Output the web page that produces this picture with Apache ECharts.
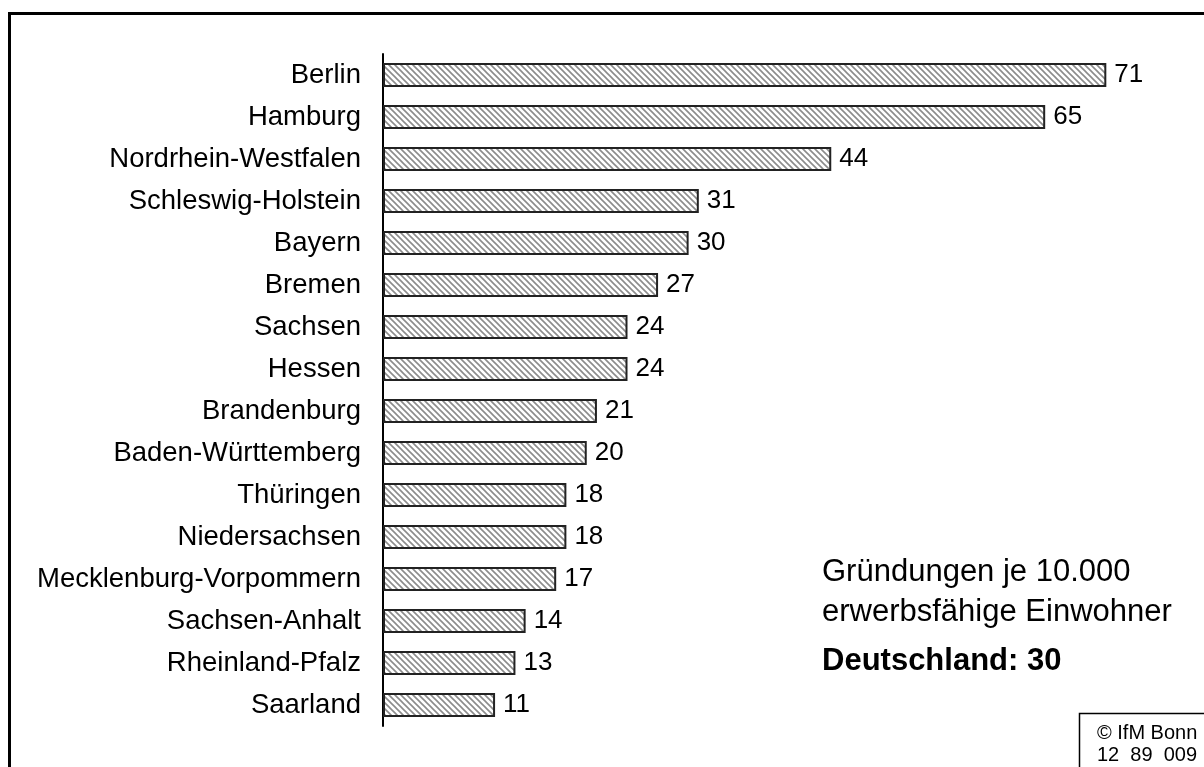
<!DOCTYPE html>
<html>
<head>
<meta charset="utf-8">
<script src="https://cdn.jsdelivr.net/npm/echarts@6/dist/echarts.min.js"></script>
<style>html,body{margin:0;padding:0;background:#fff}#c{width:1204px;height:767px}</style>
</head>
<body>
<div id="c"></div>
<script>
const categories = ["Berlin","Hamburg","Nordrhein-Westfalen","Schleswig-Holstein","Bayern","Bremen","Sachsen","Hessen","Brandenburg","Baden-Württemberg","Thüringen","Niedersachsen","Mecklenburg-Vorpommern","Sachsen-Anhalt","Rheinland-Pfalz","Saarland"];
const values = [71,65,44,31,30,27,24,24,21,20,18,18,17,14,13,11];
const noteLines = ["Gründungen je 10.000","erwerbsfähige Einwohner"];
const noteBold = "Deutschland: 30";
const sourceLines = ["© IfM Bonn","12  89  009"];

// hatch pattern
const s = 6;
const pc = document.createElement('canvas');
pc.width = s; pc.height = s;
const ctx = pc.getContext('2d');
ctx.fillStyle = '#ffffff'; ctx.fillRect(0,0,s,s);
ctx.strokeStyle = '#8c8c8c'; ctx.lineWidth = 1.6;
ctx.beginPath();
ctx.moveTo(-1,-1); ctx.lineTo(s+1,s+1);
ctx.moveTo(-1,s-1); ctx.lineTo(1,s+1);
ctx.moveTo(s-1,-1); ctx.lineTo(s+1,1);
ctx.stroke();

const chart = echarts.init(document.getElementById('c'), null, {renderer:'canvas'});
const font = '"Liberation Sans", Arial, sans-serif';
chart.setOption({
  animation:false,
  backgroundColor:'#fff',
  grid:{left:383, top:54, bottom:41, right:6, containLabel:false},
  xAxis:{type:'value', min:0, max:80, show:false},
  yAxis:{type:'category', data:categories, inverse:true,
    axisLine:{show:true, lineStyle:{color:'#000', width:2}},
    axisTick:{show:false},
    axisLabel:{color:'#000', fontSize:27.5, fontFamily:font, margin:22}},
  series:[{type:'bar', data:values, barWidth:24,
    itemStyle:{color:{image:pc, repeat:'repeat'}, borderColor:'#222', borderWidth:2},
    label:{show:true, position:'right', distance:8, color:'#000', fontSize:26, fontFamily:font}}],
  graphic:[
    {type:'rect', shape:{x:9.5, y:13.5, width:1400, height:900}, style:{fill:'none', stroke:'#000', lineWidth:3}, silent:true},
    {type:'text', left:822, top:552, style:{text:noteLines.join('\n'), font:'31px '+font, fill:'#000', lineHeight:40}},
    {type:'text', left:822, top:646, style:{text:noteBold, font:'bold 31px '+font, fill:'#000'}},
    {type:'rect', shape:{x:1079.5, y:713.5, width:200, height:100}, style:{fill:'#fff', stroke:'#000', lineWidth:1.5}},
    {type:'text', left:1097, top:722, style:{text:sourceLines.join('\n'), font:'20px '+font, fill:'#000', lineHeight:22}}
  ]
});
</script>
</body>
</html>
